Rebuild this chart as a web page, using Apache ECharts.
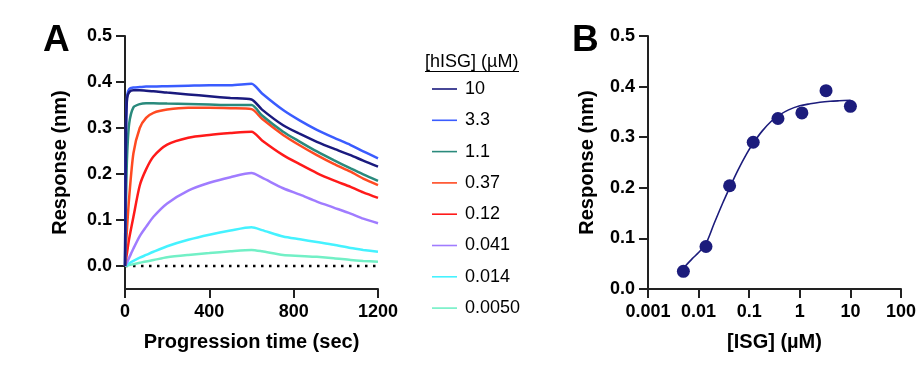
<!DOCTYPE html>
<html>
<head>
<meta charset="utf-8">
<script src="https://cdn.jsdelivr.net/npm/echarts@6/dist/echarts.min.js"></script>
<style>
html,body{margin:0;padding:0;background:#fff;}
#c{width:920px;height:365px;}
</style>
</head>
<body>
<div id="c"></div>
<script>
// ---------- Panel A: sensorgrams ----------
const timeA = [0,5,10,20,40,70,100,135,200,300,400,500,600,650,750,830,910,990,1070,1130,1200];
const concNames = ['10','3.3','1.1','0.37','0.12','0.041','0.014','0.0050'];
const concColors = ['#1a1a7e','#3a5cff','#2a8a7c','#ff4a22','#ff1a1a','#a07cff','#45f2ff','#72f0c6'];
const resp10   = [0,0.30,0.365,0.378,0.382,0.382,0.381,0.380,0.377,0.373,0.369,0.365,0.362,0.340,0.306,0.287,0.270,0.255,0.241,0.229,0.216];
const resp3_3  = [0,0.30,0.370,0.385,0.388,0.389,0.390,0.390,0.391,0.392,0.393,0.393,0.396,0.375,0.339,0.316,0.296,0.279,0.263,0.249,0.234];
const resp1_1  = [0,0.15,0.240,0.310,0.345,0.352,0.354,0.354,0.353,0.352,0.351,0.350,0.350,0.327,0.292,0.270,0.249,0.230,0.212,0.199,0.185];
const resp0_37 = [0,0.045,0.085,0.150,0.245,0.300,0.322,0.333,0.340,0.344,0.344,0.343,0.341,0.320,0.285,0.262,0.241,0.222,0.205,0.190,0.176];
const resp0_12 = [0,0.015,0.030,0.060,0.107,0.175,0.210,0.238,0.264,0.279,0.285,0.289,0.292,0.273,0.241,0.221,0.202,0.186,0.172,0.160,0.148];
const resp0_041= [0,0.004,0.008,0.018,0.038,0.065,0.085,0.107,0.136,0.164,0.181,0.193,0.202,0.192,0.169,0.155,0.140,0.127,0.114,0.103,0.093];
const resp0_014= [0,0.001,0.003,0.006,0.011,0.018,0.024,0.031,0.043,0.057,0.068,0.077,0.084,0.078,0.064,0.058,0.052,0.046,0.039,0.035,0.031];
const resp0_005= [0,0.001,0.001,0.002,0.004,0.007,0.010,0.013,0.019,0.024,0.028,0.032,0.035,0.032,0.024,0.022,0.020,0.017,0.013,0.011,0.0095];
const respA = [resp10,resp3_3,resp1_1,resp0_37,resp0_12,resp0_041,resp0_014,resp0_005];
const baselineX = [0,1200];
const baselineY = [0,0];
const yTicksA = [0,0.1,0.2,0.3,0.4,0.5];

// ---------- Panel B: steady-state fit ----------
const concB = [0.005,0.014,0.041,0.12,0.37,1.1,3.3,10];
const respB = [0.035,0.084,0.204,0.290,0.337,0.348,0.392,0.361];
const fitX = [0.005,0.0075,0.01,0.014,0.02,0.03,0.041,0.06,0.09,0.12,0.18,0.27,0.4,0.6,1,1.6,2.5,4,6,10];
const fitY = [0.041,0.060,0.072,0.090,0.128,0.170,0.200,0.235,0.268,0.288,0.312,0.331,0.344,0.354,0.362,0.366,0.369,0.371,0.372,0.373];
const xTickLabelsB = ['0.001','0.01','0.1','1','10','100'];

const FONT = 'Liberation Sans, Arial, sans-serif';
const AX = '#222';

const chart = echarts.init(document.getElementById('c'), null, {renderer:'canvas'});

const seriesA = concNames.map((n,i)=>({
  name:n, type:'line', xAxisIndex:0, yAxisIndex:0,
  data: timeA.map((t,j)=>[t, respA[i][j]]),
  showSymbol:false, symbol:'none', smooth:0.25,
  lineStyle:{color:concColors[i], width:2.5},
  itemStyle:{color:concColors[i]},
  z: 10 - i
}));

const axisCommon = {
  axisLine:{show:true, onZero:false, lineStyle:{color:AX, width:2}},
  axisTick:{show:true, inside:false, length:9, lineStyle:{color:AX, width:2}},
  splitLine:{show:false},
  axisLabel:{color:'#000', fontFamily:FONT, fontWeight:'bold', fontSize:18},
  nameTextStyle:{color:'#000', fontFamily:FONT, fontWeight:'bold', fontSize:20},
  nameLocation:'middle'
};

const option = {
  animation:false,
  backgroundColor:'#fff',
  title:[
    {text:'A', left:43, top:22, padding:0, textStyle:{fontFamily:FONT, fontWeight:'bold', fontSize:37, color:'#000'}},
    {text:'B', left:572, top:22, padding:0, textStyle:{fontFamily:FONT, fontWeight:'bold', fontSize:37, color:'#000'}},
    {text:'[hISG] (µM)', left:425, top:53, padding:0, textStyle:{fontFamily:FONT, fontWeight:'normal', fontSize:18, color:'#000'}}
  ],
  graphic:[
    {type:'line', shape:{x1:425, y1:71.5, x2:519, y2:71.5}, style:{stroke:'#000', lineWidth:1}}
  ],
  legend:{
    data:concNames, orient:'vertical', left:427, top:75,
    itemWidth:25, itemHeight:18, itemGap:13.3,
    icon:'path://M0,8.2 L25,8.2 L25,9.8 L0,9.8 Z',
    textStyle:{fontFamily:FONT, fontSize:18, color:'#000', lineHeight:18, padding:[0,0,0,3]},
    selectedMode:false
  },
  grid:[
    {left:125, right:542, top:36, bottom:76},
    {left:648, right:19, top:36, bottom:76}
  ],
  xAxis:[
    Object.assign({}, axisCommon, {
      gridIndex:0, type:'value', min:0, max:1200, interval:400,
      name:'Progression time (sec)', nameGap:43,
      axisLabel:Object.assign({}, axisCommon.axisLabel, {margin:14, formatter:v=>String(v)})
    }),
    Object.assign({}, axisCommon, {
      gridIndex:1, type:'log', logBase:10, min:0.001, max:100,
      name:'[ISG] (µM)', nameGap:43,
      minorTick:{show:false},
      axisLabel:Object.assign({}, axisCommon.axisLabel, {margin:14,
        formatter:(v,i)=>xTickLabelsB[i]})
    })
  ],
  yAxis:[
    Object.assign({}, axisCommon, {
      gridIndex:0, type:'value', min:-0.05, max:0.5,
      name:'Response (nm)', nameGap:55,
      axisTick:Object.assign({}, axisCommon.axisTick, {customValues:yTicksA}),
      axisLabel:Object.assign({}, axisCommon.axisLabel, {margin:13, customValues:yTicksA,
        formatter:v=>v.toFixed(1)})
    }),
    Object.assign({}, axisCommon, {
      gridIndex:1, type:'value', min:0, max:0.5, interval:0.1,
      name:'Response (nm)', nameGap:51,
      axisLabel:Object.assign({}, axisCommon.axisLabel, {margin:13, formatter:v=>v.toFixed(1)})
    })
  ],
  series: seriesA.concat([
    {
      name:'baseline', type:'line', xAxisIndex:0, yAxisIndex:0,
      data: baselineX.map((x,i)=>[x, baselineY[i]]),
      showSymbol:false, symbol:'none',
      lineStyle:{color:'#000', width:2.5, type:[2.5,5.5], cap:'butt'},
      z:1
    },
    {
      name:'fit', type:'line', xAxisIndex:1, yAxisIndex:1,
      data: fitX.map((x,i)=>[x, fitY[i]]),
      showSymbol:false, symbol:'none', smooth:0.3,
      lineStyle:{color:'#1c1c7c', width:1.6}, z:2
    },
    {
      name:'points', type:'scatter', xAxisIndex:1, yAxisIndex:1,
      data: concB.map((x,i)=>[x, respB[i]]),
      symbolSize:13, itemStyle:{color:'#1c1c7c', opacity:1}, z:3
    }
  ])
};
chart.setOption(option);
</script>
</body>
</html>
